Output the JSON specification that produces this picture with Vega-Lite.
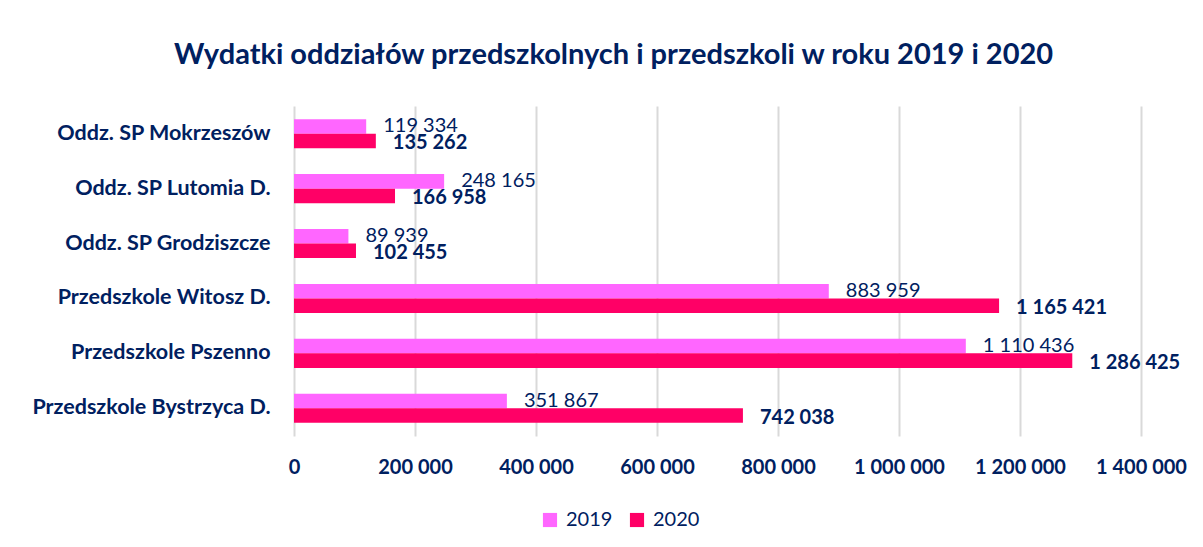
{
  "$schema": "https://vega.github.io/schema/vega-lite/v6.json",
  "width": 847,
  "height": 330,
  "autosize": {"type": "none"},
  "padding": {"left": 294, "top": 106, "right": 62, "bottom": 111},
  "background": "white",
  "config": {
    "locale": {"number": {"decimal": ",", "thousands": " ", "grouping": [3], "currency": ["", " zł"]}},
    "view": {"stroke": null},
    "font": "Lato"
  },
  "title": {
    "text": "Wydatki oddziałów przedszkolnych i przedszkoli w roku 2019 i 2020",
    "font": "Lato",
    "fontSize": 29,
    "fontWeight": "bold",
    "color": "#002060",
    "anchor": "middle",
    "frame": "group",
    "dx": -104,
    "offset": 36
  },
  "data": {
    "values": [
      {"jednostka": "Oddz. SP Mokrzeszów", "rok": "2019", "wydatki": 119334},
      {"jednostka": "Oddz. SP Mokrzeszów", "rok": "2020", "wydatki": 135262},
      {"jednostka": "Oddz. SP Lutomia D.", "rok": "2019", "wydatki": 248165},
      {"jednostka": "Oddz. SP Lutomia D.", "rok": "2020", "wydatki": 166958},
      {"jednostka": "Oddz. SP Grodziszcze", "rok": "2019", "wydatki": 89939},
      {"jednostka": "Oddz. SP Grodziszcze", "rok": "2020", "wydatki": 102455},
      {"jednostka": "Przedszkole Witosz D.", "rok": "2019", "wydatki": 883959},
      {"jednostka": "Przedszkole Witosz D.", "rok": "2020", "wydatki": 1165421},
      {"jednostka": "Przedszkole Pszenno", "rok": "2019", "wydatki": 1110436},
      {"jednostka": "Przedszkole Pszenno", "rok": "2020", "wydatki": 1286425},
      {"jednostka": "Przedszkole Bystrzyca D.", "rok": "2019", "wydatki": 351867},
      {"jednostka": "Przedszkole Bystrzyca D.", "rok": "2020", "wydatki": 742038}
    ]
  },
  "encoding": {
    "y": {
      "field": "jednostka",
      "type": "nominal",
      "sort": null,
      "scale": {"paddingInner": 0.47, "paddingOuter": 0.24},
      "axis": {
        "title": null,
        "domain": false,
        "ticks": false,
        "labelFont": "Lato",
        "labelFontSize": 21.5,
        "labelFontWeight": "bold",
        "labelColor": "#002060",
        "labelPadding": 24,
        "labelLimit": 400
      }
    },
    "x": {
      "field": "wydatki",
      "type": "quantitative",
      "scale": {"domain": [0, 1400000]},
      "axis": {
        "title": null,
        "format": ",d",
        "values": [0, 200000, 400000, 600000, 800000, 1000000, 1200000, 1400000],
        "labelOverlap": false,
        "labelFlush": false,
        "domain": false,
        "ticks": false,
        "grid": true,
        "gridColor": "#D9D9D9",
        "gridWidth": 2,
        "labelFont": "Lato",
        "labelFontSize": 20,
        "labelFontWeight": "bold",
        "labelColor": "#002060",
        "labelPadding": 21
      }
    },
    "yOffset": {"field": "rok", "type": "nominal", "scale": {"paddingInner": 0}}
  },
  "layer": [
    {
      "mark": {"type": "bar"},
      "encoding": {
        "color": {
          "field": "rok",
          "type": "nominal",
          "scale": {"domain": ["2019", "2020"], "range": ["#FF66FF", "#FF0066"]},
          "legend": {
            "title": null,
            "orient": "none",
            "direction": "horizontal",
            "legendX": 246,
            "legendY": 404,
            "symbolType": "square",
            "symbolSize": 200,
            "symbolStrokeWidth": 0,
            "labelFont": "Lato",
            "labelFontSize": 20,
            "labelColor": "#002060",
            "columnPadding": 14,
            "labelOffset": 6
          }
        }
      }
    },
    {
      "transform": [{"filter": "datum.rok === '2019'"}],
      "mark": {"type": "text", "align": "left", "baseline": "middle", "dx": 17, "dy": 0, "font": "Lato", "fontSize": 20, "color": "#002060"},
      "encoding": {"text": {"field": "wydatki", "type": "quantitative", "format": ",d"}}
    },
    {
      "transform": [{"filter": "datum.rok === '2020'"}],
      "mark": {"type": "text", "align": "left", "baseline": "middle", "dx": 17, "dy": 2, "font": "Lato", "fontSize": 20, "fontWeight": "bold", "color": "#002060"},
      "encoding": {"text": {"field": "wydatki", "type": "quantitative", "format": ",d"}}
    }
  ]
}
